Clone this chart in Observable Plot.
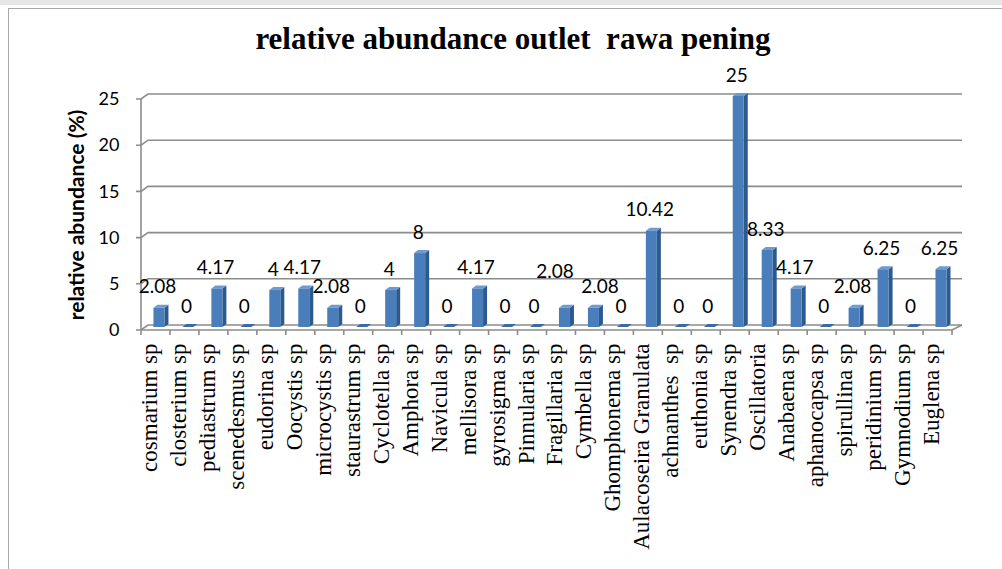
<!DOCTYPE html>
<html><head><meta charset="utf-8">
<script src="https://cdn.jsdelivr.net/npm/d3@7"></script>
<script src="https://cdn.jsdelivr.net/npm/@observablehq/plot@0.6"></script>
<style>
body{margin:0;background:#fff;}
#wrap{position:relative;width:1002px;height:569px;overflow:hidden;background:#fff}
#topbar{position:absolute;left:0;top:0;width:1002px;height:5px;background:#e6e6e6}
#frame{position:absolute;left:8px;top:8px;width:1100px;height:700px;border:1px solid #a8a8a8;}
#chart{position:absolute;left:0;top:0}
#title{position:absolute;left:0;top:21px;width:1026px;text-align:center;font:bold 31px "Liberation Serif";white-space:pre;color:#000}
</style></head><body>
<div id="wrap"><div id="topbar"></div><div id="frame"></div><div id="chart"></div><div id="title">relative abundance outlet  rawa pening</div></div>
<script>
const categories = ["cosmarium sp","closterium sp","pediastrum sp","scenedesmus sp","eudorina sp","Oocystis sp","microcystis sp","staurastrum sp","Cyclotella sp","Amphora sp","Navicula sp","mellisora sp","gyrosigma sp","Pinnularia sp","Fragillaria sp","Cymbella sp","Ghomphonema sp","Aulacoseira Granulata","achnanthes  sp","euthonia sp","Synendra sp","Oscillatoria","Anabaena sp","aphanocapsa sp","spirullina sp","peridinium sp","Gymnodium sp","Euglena sp"];
const values = [2.08,0,4.17,0,4,4.17,2.08,0,4,8,0,4.17,0,0,2.08,2.08,0,10.42,0,0,25,8.33,4.17,0,2.08,6.25,0,6.25];
const yTicks = [0,5,10,15,20,25];
const yTitle = "relative abundance (%)";

const data = categories.map((c, i) => ({category: c, value: values[i], lx: 2, ly: -24}));
// nudge labels of neighbouring equal-height bars apart (as the spreadsheet does)
for (let i = 0; i < data.length - 1; i++) {
  const a = data[i], b = data[i + 1];
  const la = String(a.value).length, lb = String(b.value).length;
  if (a.value > 0 && b.value > 0 && Math.abs(a.value - b.value) < 1.5 && (la + lb) * 5 > 29) {
    a.lx -= 8; a.ly -= 15; b.lx += 8;
  }
}

function bandInfo(x) {
  const a = x(categories[0]);
  const step = x(categories[1]) - a;
  const bw = typeof x.bandwidth === "function" ? x.bandwidth() : step;
  return {a, step, bw: bw || step, b: a + step * categories.length};
}

function gridMark(index, {x, y}) {
  const g = d3.create("svg:g").attr("stroke", "#8c8c8c").attr("stroke-width", 1.6).attr("fill", "none");
  const {a, step, b} = bandInfo(x);
  const ox = 7, oy = 5;
  for (const t of yTicks) {
    const yy = y(t);
    g.append("path").attr("d", `M${a - 5},${yy}L${a},${yy}L${a + ox},${yy - oy}L${b + 10},${yy - oy}`);
  }
  g.append("line").attr("x1", a).attr("x2", a).attr("y1", y(yTicks[yTicks.length - 1])).attr("y2", y(0));
  const y0 = y(0);
  g.append("path").attr("d", `M${a},${y0}L${b},${y0}L${b + 10},${y0 - oy}`);
  for (let i = 0; i <= categories.length; i++) {
    const xi = a + i * step;
    g.append("line").attr("x1", xi).attr("x2", xi).attr("y1", y0).attr("y2", y0 + 5);
  }
  return g.node();
}

function barsMark(index, {x, y}) {
  const g = d3.create("svg:g");
  const {bw} = bandInfo(x);
  const dx = 4, dy = 3;
  for (const d of data) {
    const x0 = x(d.category) + bw * 0.43;
    const w = bw * 0.38;
    const yt = y(d.value) - 3;
    const yb = y(0) - 3;
    g.append("path").attr("d", `M${x0 + w},${yb}L${x0 + w + dx},${yb - dy}L${x0 + w + dx},${yt - dy}L${x0 + w},${yt}Z`).attr("fill", "#2c5a8f");
    g.append("path").attr("d", `M${x0},${yt}L${x0 + dx},${yt - dy}L${x0 + w + dx},${yt - dy}L${x0 + w},${yt}Z`).attr("fill", d.value > 0 ? "#6f9ad0" : "#3b6aa5");
    if (d.value > 0) g.append("rect").attr("x", x0).attr("y", yt).attr("width", w).attr("height", yb - yt).attr("fill", "#4a7ebb");
  }
  return g.node();
}

function valueLabels(index, {x, y}) {
  const g = d3.create("svg:g").attr("font-family", "Lato").attr("font-size", 19).attr("text-anchor", "middle").attr("fill", "#000");
  const {bw} = bandInfo(x);
  for (const d of data) {
    g.append("text").attr("x", x(d.category) + bw / 2 + d.lx).attr("y", y(d.value) + d.ly).attr("dy", "0.35em").text(String(d.value));
  }
  return g.node();
}

const chart = Plot.plot({
  width: 1002,
  height: 569,
  marginLeft: 141,
  marginRight: 50,
  marginTop: 99,
  marginBottom: 239,
  x: {type: "band", domain: categories, padding: 0, round: false, axis: null},
  y: {domain: [0, 25], axis: null},
  style: {background: "transparent", overflow: "visible"},
  marks: [
    gridMark,
    barsMark,
    valueLabels,
    Plot.text(yTicks, {y: d => d, text: d => String(d), frameAnchor: "left", textAnchor: "end", dx: -22, fontSize: 18, fontFamily: "Lato", fill: "#000"}),
    Plot.text([yTitle], {text: d => d, frameAnchor: "left", textAnchor: "middle", rotate: -90, dx: -64, fontSize: 21, fontWeight: "bold", fontFamily: "Lato", fill: "#000"}),
    Plot.text(data, {x: "category", text: "category", frameAnchor: "bottom", rotate: -90, textAnchor: "end", dx: 1, dy: 13, fontSize: 23, fontFamily: "Liberation Serif", fill: "#000"})
  ]
});
document.getElementById("chart").appendChild(chart);
</script>
</body></html>
